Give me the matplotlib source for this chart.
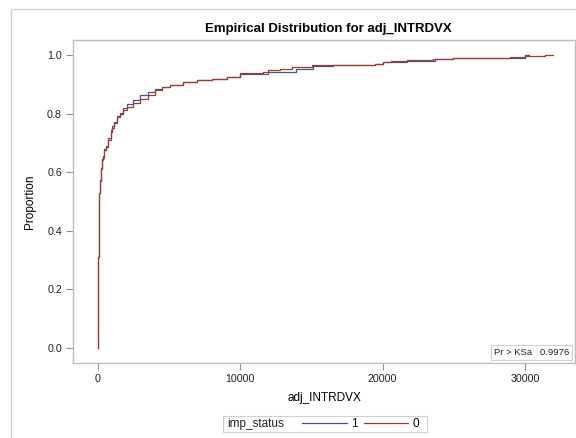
import matplotlib.pyplot as plt
from matplotlib.lines import Line2D
from matplotlib.patches import Rectangle

# ECDF step points (value, cumulative proportion)
x_imp1 = [0, 0, 50, 100, 150, 210, 280, 350, 420, 560, 700, 890, 1000, 1120, 1340, 1550,
          1760, 2030, 2460, 2950, 3510, 4000, 4500, 5060, 5970, 6960, 8010, 9070, 9980,
          11950, 13900, 15100, 16510, 19470, 20030, 21690, 23700, 24950, 28980, 30000, 30300]
p_imp1 = [0.0, 0.31, 0.468, 0.53, 0.575, 0.615, 0.645, 0.655, 0.68, 0.69, 0.715, 0.745, 0.758,
          0.772, 0.79, 0.803, 0.82, 0.832, 0.845, 0.862, 0.872, 0.884, 0.891, 0.898, 0.908,
          0.916, 0.918, 0.925, 0.935, 0.941, 0.952, 0.961, 0.966, 0.969, 0.976, 0.981, 0.985,
          0.989, 0.991, 1.0, 1.0]

x_imp0 = [0, 0, 50, 100, 150, 210, 280, 350, 420, 560, 700, 890, 1000, 1120, 1340, 1550,
          1760, 2030, 2460, 2950, 3510, 4000, 4500, 5060, 5970, 6960, 8010, 9070, 9980,
          11600, 11950, 12790, 13630, 15040, 19470, 20030, 20590, 21690, 23540, 24950,
          28950, 30000, 31410, 32000]
p_imp0 = [0.0, 0.31, 0.468, 0.53, 0.57, 0.61, 0.64, 0.65, 0.675, 0.686, 0.71, 0.738, 0.752,
          0.767, 0.788, 0.80, 0.812, 0.823, 0.835, 0.85, 0.865, 0.88, 0.89, 0.898, 0.908,
          0.915, 0.918, 0.925, 0.939, 0.942, 0.949, 0.953, 0.958, 0.965, 0.969, 0.975, 0.981,
          0.983, 0.986, 0.99, 0.994, 0.997, 1.0, 1.0]

x_ticks = [0, 10000, 20000, 30000]
y_ticks = [0.0, 0.2, 0.4, 0.6, 0.8, 1.0]
ks_label = "Pr > KSa"
ks_value = "0.9976"

blue = '#445694'
red = '#A23A2E'
grey = '#BEBEBE'

plt.rcParams['font.family'] = ['Liberation Sans', 'DejaVu Sans']

fig = plt.figure(figsize=(5.76, 4.38), dpi=100)
ax = fig.add_axes([73 / 576, 1 - 363 / 438, 502 / 576, 323 / 438])

ax.step(x_imp1, p_imp1, where='post', color=blue, lw=0.9)
ax.step(x_imp0, p_imp0, where='post', color=red, lw=0.9)

ax.set_xlim(-1760, 33520)
ax.set_ylim(-0.051, 1.051)
ax.set_xticks(x_ticks)
ax.set_xticklabels([str(t) for t in x_ticks])
ax.set_yticks(y_ticks)
ax.set_yticklabels([f"{t:.1f}" for t in y_ticks])
ax.tick_params(length=5, width=0.8, color='#909090', labelsize=7.7, pad=3, labelcolor='#222222')
for s in ax.spines.values():
    s.set_color(grey)
    s.set_linewidth(1.0)

ax.set_title("Empirical Distribution for adj_INTRDVX", fontsize=9.5, fontweight='bold', pad=6, x=0.508)
ax.set_xlabel("adj_INTRDVX", fontsize=8.5, labelpad=6)
ax.set_ylabel("Proportion", fontsize=8.5, labelpad=8)

# KS test inset box
ax.text(0.988, 0.033, f"{ks_label}   {ks_value}", transform=ax.transAxes, ha='right', va='center',
        fontsize=6.8, color='#222222',
        bbox=dict(boxstyle='square,pad=0.3', facecolor='white', edgecolor='#D0D0D0', lw=0.8))

# outer graph border
fig.patches.append(Rectangle((11 / 576, -0.1), 1.2, 1 - 9 / 438 + 0.1, transform=fig.transFigure,
                             fill=False, edgecolor='#D0D0D0', lw=1.0))

# legend: group title, then the two series
fig.patches.append(Rectangle((223 / 576, 1 - 432 / 438), 204 / 576, 16 / 438,
                             transform=fig.transFigure, fill=False, edgecolor='#D0D0D0', lw=0.8))
fig.text(227 / 576, 1 - 424 / 438, "imp_status", fontsize=8.5, va='center', ha='left', color='#222222')
handles = [Line2D([], [], color=blue, lw=0.9), Line2D([], [], color=red, lw=0.9)]
fig.legend(handles, ["1", "0"], loc='center left', bbox_to_anchor=(302 / 576, 1 - 424 / 438),
           ncol=2, frameon=False, fontsize=8.5, handlelength=3.8, handletextpad=0.35,
           columnspacing=0.5, borderpad=0, borderaxespad=0)

fig.savefig("out.png", dpi=100)
